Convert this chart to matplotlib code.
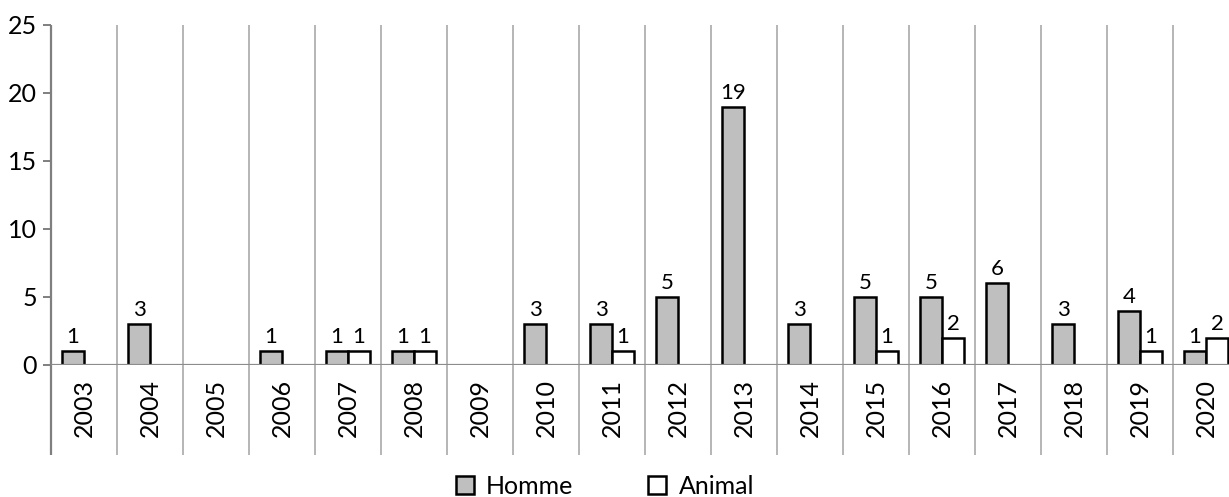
import matplotlib.pyplot as plt
import numpy as np
from matplotlib.patches import Patch

plt.rcParams["font.family"] = ["Lato", "DejaVu Sans"]

years = ["2003", "2004", "2005", "2006", "2007", "2008", "2009", "2010", "2011",
         "2012", "2013", "2014", "2015", "2016", "2017", "2018", "2019", "2020"]
homme = [1, 3, None, 1, 1, 1, None, 3, 3, 5, 19, 3, 5, 5, 6, 3, 4, 1]
animal = [None, None, None, None, 1, 1, None, None, 1, None, None, None, 1, 2, None, None, 1, 2]

W, H = 1229, 497
fig = plt.figure(figsize=(W / 100, H / 100), dpi=100)
left, right, top, zero = 51, 1229, 25, 365
ax = fig.add_axes([left / W, (H - zero) / H, (right - left) / W, (zero - top) / H])

n_vis = (right - left) / 66.0
ax.set_xlim(-0.5, -0.5 + n_vis)
ax.set_ylim(0, 25)

x = np.arange(len(years))
bw = 1 / 3
h_vals = np.array([np.nan if v is None else v for v in homme], dtype=float)
a_vals = np.array([np.nan if v is None else v for v in animal], dtype=float)

ax.bar(x - bw / 2, h_vals, width=bw, color="#bfbfbf", edgecolor="black", linewidth=1.8, zorder=3)
ax.bar(x + bw / 2, a_vals, width=bw, color="white", edgecolor="black", linewidth=1.8, zorder=3)

for xi, v in zip(x, h_vals):
    if not np.isnan(v):
        ax.text(xi - bw / 2, v + 0.3, f"{int(v)}", ha="center", va="bottom", fontsize=16)
for xi, v in zip(x, a_vals):
    if not np.isnan(v):
        ax.text(xi + bw / 2, v + 0.3, f"{int(v)}", ha="center", va="bottom", fontsize=16)

# category dividers, running into the label area
y_low = -(455 - zero) / ((zero - top) / 25.0)
ax.vlines(np.arange(len(years)) + 0.5, y_low, 25, color="#b0b0b0", linewidth=1.3,
          clip_on=False, zorder=1)
ax.vlines([-0.5], y_low, 25, color="#7f7f7f", linewidth=1.6, clip_on=False, zorder=4)
ax.axhline(0, color="#8c8c8c", linewidth=1.6, zorder=4)

for s in ["top", "right", "bottom", "left"]:
    ax.spines[s].set_visible(False)

ax.set_yticks([0, 5, 10, 15, 20, 25])
ax.tick_params(axis="y", length=6, width=1.4, color="#7f7f7f", pad=4, labelsize=18)
ax.set_xticks(x)
ax.set_xticklabels(years, rotation=90, fontsize=18)
ax.tick_params(axis="x", length=0, pad=10)

handles = [Patch(facecolor="#bfbfbf", edgecolor="black", linewidth=1.8, label="Homme"),
           Patch(facecolor="white", edgecolor="black", linewidth=1.8, label="Animal")]
fig.legend(handles=handles, loc="center", bbox_to_anchor=(605 / W, 11 / H), ncol=2,
           frameon=False, fontsize=18, handlelength=0.7, handleheight=0.7,
           handletextpad=0.5, columnspacing=3.0)

plt.savefig("out.png", dpi=100)
